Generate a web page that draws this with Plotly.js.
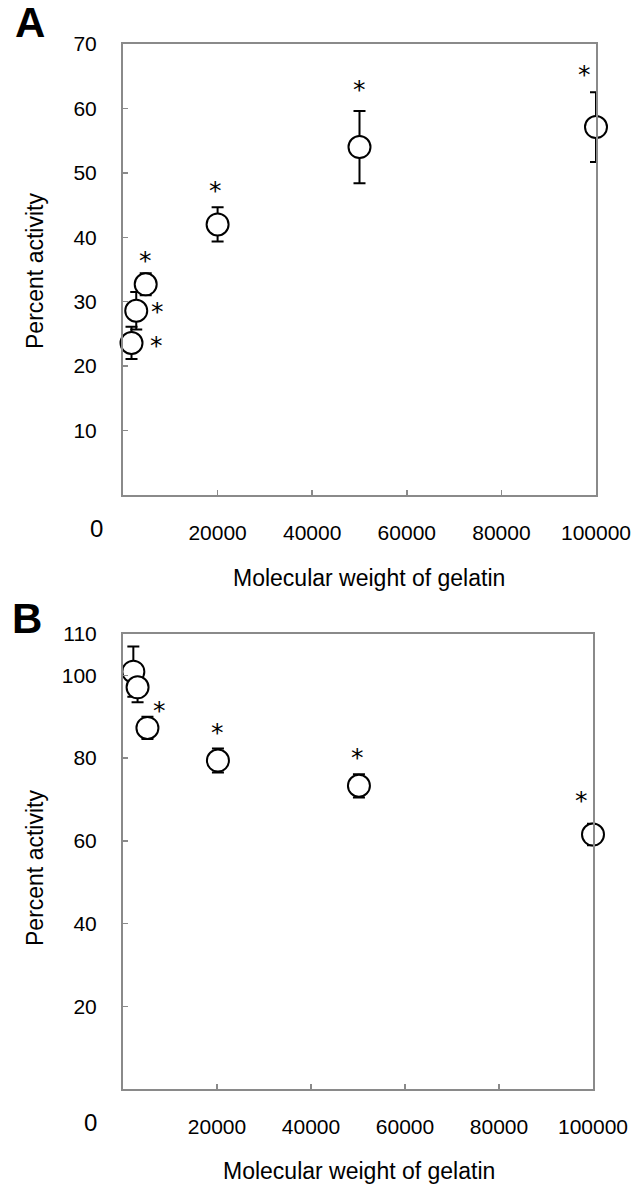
<!DOCTYPE html>
<html>
<head>
<meta charset="utf-8">
<script src="https://cdn.plot.ly/plotly-3.0.1.min.js"></script>
<style>html,body{margin:0;padding:0;background:#fff;}#chart{width:632px;height:1190px;}</style>
</head>
<body>
<div id="chart"></div>
<script>
// ---------- data ----------
const xTickVals = [20000, 40000, 60000, 80000, 100000];
const xTickText = ['20000', '40000', '60000', '80000', '100000'];
const yTickValsA = [10, 20, 30, 40, 50, 60, 70];
const yTickValsB = [20, 40, 60, 80, 100, 110];

const mwA = [1800, 2800, 4800, 20000, 50000, 100000];
const actA = [23.6, 28.6, 32.7, 42.0, 54.0, 57.1];
const errA = [2.5, 2.9, 1.7, 2.65, 5.6, 5.4];
const sigA = [true, true, true, true, true, true];

const mwB = [2200, 3100, 5200, 20200, 50200, 100000];
const actB = [100.9, 97.1, 87.3, 79.4, 73.3, 61.5];
const errB = [6.1, 3.6, 2.7, 2.9, 2.8, 2.6];
const sigB = [false, false, true, true, true, true];

// ---------- layout helpers ----------
const W = 632, H = 1190;
const px = v => v / W;
const py = v => 1 - v / H;
const FONT = 'Liberation Sans, Arial, sans-serif';
const NARROW = 'Liberation Sans Narrow, Arial Narrow, Liberation Sans, Arial, sans-serif';
const STAR_FONT = 'DejaVu Sans, Liberation Serif, serif';
const AX = '#8a8a8a';

// star offsets in pixels relative to the marker centre (dx right, dy up)
const starOffA = [[25, 2], [21, 4], [0, 29], [-2, 39], [0, 63], [-12, 58]];
const starOffB = [null, null, [12, 22], [0, 33], [-1, 33], [-12, 39]];
const STAR_CORR = -5; // glyph sits high in its text box

function trace(x, y, e, xa, ya) {
  return {
    type: 'scatter', mode: 'markers', x: x, y: y, xaxis: xa, yaxis: ya,
    marker: {symbol: 'circle', size: 22, color: '#ffffff', line: {color: '#000', width: 2}},
    error_y: {type: 'data', array: e, visible: true, color: '#000', thickness: 2, width: 6},
    showlegend: false, hoverinfo: 'skip', cliponaxis: false
  };
}

function xAxis(dom, anchor) {
  return {
    domain: dom, anchor: anchor, range: [0, 100000], tickvals: xTickVals, ticktext: xTickText,
    ticks: 'inside', ticklen: 5, tickwidth: 1.5, tickcolor: AX,
    showline: true, mirror: true, linecolor: AX, linewidth: 2,
    showgrid: false, zeroline: false, ticklabelstandoff: 18,
    tickfont: {family: FONT, size: 21, color: '#000'}, fixedrange: true
  };
}
function yAxis(dom, anchor, range, vals) {
  return {
    domain: dom, anchor: anchor, range: range, tickvals: vals,
    ticks: 'inside', ticklen: 5, tickwidth: 1.5, tickcolor: AX,
    showline: true, mirror: true, linecolor: AX, linewidth: 2,
    showgrid: false, zeroline: false, ticklabelstandoff: 20,
    tickfont: {family: FONT, size: 21, color: '#000'}, fixedrange: true
  };
}

const annotations = [];
function stars(x, y, sig, off, xr, yr) {
  for (let i = 0; i < x.length; i++) {
    if (!sig[i] || !off[i]) continue;
    annotations.push({
      xref: xr, yref: yr, x: x[i], y: y[i], xshift: off[i][0], yshift: off[i][1] + STAR_CORR,
      text: '*', showarrow: false, xanchor: 'center', yanchor: 'middle',
      font: {family: STAR_FONT, size: 25, color: '#000'}
    });
  }
}
stars(mwA, actA, sigA, starOffA, 'x', 'y');
stars(mwB, actB, sigB, starOffB, 'x2', 'y2');

function label(text, x, y, size, opts) {
  annotations.push(Object.assign({
    xref: 'paper', yref: 'paper', x: px(x), y: py(y), text: text, showarrow: false,
    xanchor: 'center', yanchor: 'middle', font: {family: FONT, size: size, color: '#000'}
  }, opts || {}));
}
// panel letters
label('<b>A</b>', 30, 22, 40, {font: {family: NARROW, size: 42, color: '#000'}});
label('<b>B</b>', 27, 618, 40, {font: {family: NARROW, size: 42, color: '#000'}});
// stray zero labels
label('0', 96.5, 528, 24);
label('0', 90, 1122, 24);
// axis titles
label('Molecular weight of gelatin', 369, 578, 23);
label('Molecular weight of gelatin', 359, 1171, 23);
label('Percent activity', 35, 271, 23, {textangle: -90});
label('Percent activity', 35, 868, 23, {textangle: -90});

const data = [
  trace(mwA, actA, errA, 'x', 'y'),
  trace(mwB, actB, errB, 'x2', 'y2')
];

const layout = {
  width: W, height: H, margin: {l: 0, r: 0, t: 0, b: 0},
  paper_bgcolor: '#fff', plot_bgcolor: '#fff', showlegend: false,
  xaxis: xAxis([px(123), px(596)], 'y'),
  yaxis: yAxis([py(495), py(44)], 'x', [0, 70], yTickValsA),
  xaxis2: xAxis([px(123), px(593)], 'y2'),
  yaxis2: yAxis([py(1089), py(634)], 'x2', [0, 110], yTickValsB),
  annotations: annotations
};

Plotly.newPlot('chart', data, layout, {staticPlot: true, displayModeBar: false});
</script>
</body>
</html>
